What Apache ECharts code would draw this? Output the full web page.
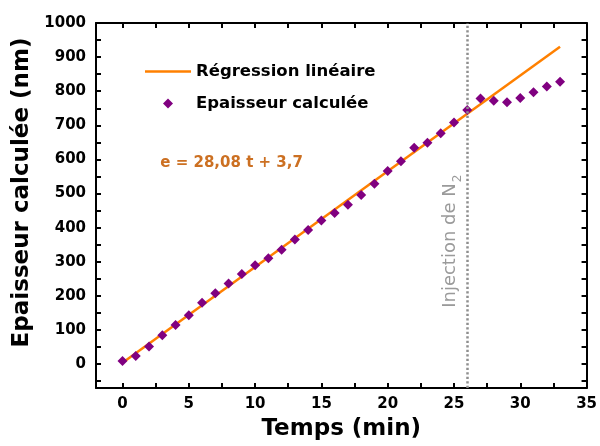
<!DOCTYPE html>
<html>
<head>
<meta charset="utf-8">
<script src="https://cdn.jsdelivr.net/npm/echarts@6/dist/echarts.min.js"></script>
<style>html,body{margin:0;padding:0;background:#fff}#c{width:600px;height:446px}</style>
</head>
<body>
<div id="c"></div>
<script>
// ---- data ----
const times = [0,1,2,3,4,5,6,7,8,9,10,11,12,13,14,15,16,17,18,19,20,21,22,23,24,25,26,27,28,29,30,31,32,33];
const thickness = [9,24,52,85,115,143,180,208,236,264,290,310,335,365,393,421,443,467,496,529,566,595,634,649,677,708,745,779,772,768,780,797,814,828];
const regTimes = [0, 33];
const regValues = [3.7, 930.3];
const injectionTime = 26;
const xTickLabels = [0,5,10,15,20,25,30,35];
const xAllTicks = [0,2.5,5,7.5,10,12.5,15,17.5,20,22.5,25,27.5,30,32.5,35];
const yTickLabels = [0,100,200,300,400,500,600,700,800,900,1000];
const yAllTicks = [-50,0,50,100,150,200,250,300,350,400,450,500,550,600,650,700,750,800,850,900,950,1000];
const seriesNames = ['Régression linéaire', 'Epaisseur calculée'];
const equationText = 'e = 28,08 t + 3,7';

const FONT = 'DejaVu Sans, Liberation Sans, sans-serif';
const chart = echarts.init(document.getElementById('c'), null, {renderer: 'canvas'});

function mkAxis(kind, pos, extra) {
  const ax = {
    type: 'value',
    position: pos,
    min: kind === 'x' ? -2 : -70,
    max: kind === 'x' ? 35 : 1000,
    splitLine: {show: false},
    axisLine: {show: true, onZero: false, lineStyle: {color: '#000', width: 2}},
    axisTick: {show: true, inside: true, length: 5, customValues: kind === 'x' ? xAllTicks : yAllTicks, lineStyle: {color: '#000', width: 2}},
    axisLabel: {show: false}
  };
  return Object.assign(ax, extra || {});
}

const option = {
  animation: false,
  backgroundColor: '#fff',
  grid: {left: 96, right: 11, top: 23, bottom: 58},
  xAxis: [
    mkAxis('x', 'bottom', {
      axisLabel: {show: true, customValues: xTickLabels, color: '#000', fontFamily: FONT, fontWeight: 'bold', fontSize: 15, margin: 9},
      name: 'Temps (min)', nameLocation: 'middle', nameGap: 30,
      nameTextStyle: {color: '#000', fontFamily: FONT, fontWeight: 'bold', fontSize: 23}
    }),
    mkAxis('x', 'top')
  ],
  yAxis: [
    mkAxis('y', 'left', {
      axisLabel: {show: true, customValues: yTickLabels, formatter: v => String(v), color: '#000', fontFamily: FONT, fontWeight: 'bold', fontSize: 15, margin: 10},
      name: 'Epaisseur calculée (nm)', nameLocation: 'middle', nameGap: 57,
      nameTextStyle: {color: '#000', fontFamily: FONT, fontWeight: 'bold', fontSize: 23, padding: [0, 0, 0, 26]}
    }),
    mkAxis('y', 'right')
  ],
  legend: {
    orient: 'vertical', left: 145, top: 63, padding: 0,
    itemWidth: 46, itemHeight: 10, itemGap: 15,
    textStyle: {color: '#000', fontFamily: FONT, fontWeight: 'bold', fontSize: 16.5},
    data: [
      {name: seriesNames[0], icon: 'path://M0,0 L46,0 L46,2.5 L0,2.5 Z'},
      {name: seriesNames[1], icon: 'path://M5,0 L10,5 L5,10 L0,5 Z'}
    ]
  },
  series: [
    {
      name: seriesNames[0], type: 'line', symbol: 'none',
      lineStyle: {color: '#ff8000', width: 2.5}, itemStyle: {color: '#ff8000'},
      data: regTimes.map((t, i) => [t, regValues[i]]),
      z: 2,
      markLine: {
        silent: true, symbol: 'none', label: {show: false},
        lineStyle: {color: '#8f8f8f', width: 2.5, type: [2.3, 2.2]},
        data: [{xAxis: injectionTime}]
      }
    },
    {
      name: seriesNames[1], type: 'scatter', symbol: 'diamond', symbolSize: 10,
      itemStyle: {color: '#800080', opacity: 1},
      data: times.map((t, i) => [t, thickness[i]]),
      z: 3
    }
  ]
};
chart.setOption(option);

const px26 = chart.convertToPixel({xAxisIndex: 0}, injectionTime);
const pyStart = chart.convertToPixel({yAxisIndex: 0}, 165);
const eqX = chart.convertToPixel({xAxisIndex: 0}, 2.85);
const eqY = chart.convertToPixel({yAxisIndex: 0}, 588);

chart.setOption({
  graphic: [
    {
      type: 'text', x: eqX, y: eqY, silent: true,
      style: {text: equationText, fill: '#cc7022', font: 'bold 15px ' + FONT, align: 'left', verticalAlign: 'middle'}
    },
    {
      type: 'text', x: px26 - 19, y: pyStart, rotation: Math.PI / 2, silent: true,
      style: {
        text: '{a|Injection de N}{b|2}', align: 'left', verticalAlign: 'middle',
        rich: {
          a: {fontFamily: FONT, fontSize: 18, fill: '#9a9a9a', lineHeight: 22, verticalAlign: 'bottom'},
          b: {fontFamily: FONT, fontSize: 12, fill: '#9a9a9a', lineHeight: 22, verticalAlign: 'bottom', padding: [0, 0, -5, 1]}
        }
      }
    }
  ]
});
</script>
</body>
</html>
